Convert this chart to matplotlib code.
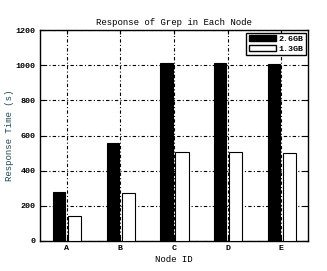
import matplotlib.pyplot as plt
import numpy as np
from matplotlib.patches import Patch

nodes = ["A", "B", "C", "D", "E"]
big = [280, 555, 1012, 1012, 1008]
small = [140, 275, 508, 508, 502]

plt.rcParams["font.family"] = ["Liberation Mono", "DejaVu Sans Mono"]
plt.rcParams["font.weight"] = "bold"

fig = plt.figure(figsize=(3.27, 2.71), dpi=100)
ax = fig.add_axes([0.122, 0.111, 0.820, 0.778])

x = np.arange(1, len(nodes) + 1)
ax.bar(x - 0.14, big, width=0.23, color="black", edgecolor="black", linewidth=0.8, zorder=3)
ax.bar(x + 0.15, small, width=0.25, color="white", edgecolor="black", linewidth=0.8, zorder=3)

ax.set_xlim(0.5, 5.5)
ax.set_ylim(0, 1200)
ax.set_xticks(x)
ax.set_xticklabels(nodes)
ax.set_yticks(range(0, 1201, 200))
ax.tick_params(labelsize=6, direction="in", length=3, width=0.8, top=True, right=True, pad=3)
ax.grid(True, linestyle=(0, (1, 2, 3, 2)), color="black", linewidth=0.8, zorder=1)
for s in ax.spines.values():
    s.set_linewidth(1.0)

ax.set_title("Response of Grep in Each Node", fontsize=6.5, pad=4)
ax.set_xlabel("Node ID", fontsize=6.5, labelpad=2)
ax.set_ylabel("Response Time (s)", fontsize=6.5, color="#1a4a55", labelpad=1)
ax.yaxis.set_label_coords(-0.095, 0.5)

handles = [Patch(facecolor="black", edgecolor="black"),
           Patch(facecolor="white", edgecolor="black")]
leg = ax.legend(handles, ["2.6GB", "1.3GB"], loc="upper right", fontsize=6,
                fancybox=False, framealpha=1, edgecolor="black",
                handlelength=3.2, handleheight=0.8, borderpad=0.3,
                labelspacing=0.2, handletextpad=0.3, borderaxespad=0.3)
leg.get_frame().set_linewidth(1.0)

fig.savefig("out.png", dpi=100)
